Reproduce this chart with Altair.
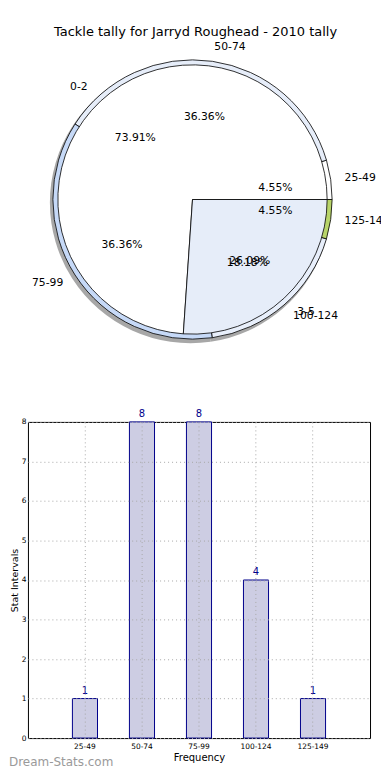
import math
import altair as alt
import pandas as pd

# ---- data ----
intervals = ["25-49", "50-74", "75-99", "100-124", "125-149"]
interval_counts = [1, 8, 8, 4, 1]
interval_colors = ["#ffffff", "#e6edf9", "#c6d9f7", "#e8effb", "#b8d46a"]
tally_cats = ["0-2", "3-5"]
tally_counts = [17, 6]
tally_colors = ["#ffffff", "#ebf1fc"]
chart_title = "Tackle tally for Jarryd Roughead - 2010 tally"
y_ticks = [0, 1, 2, 3, 4, 5, 6, 7, 8]
watermark = "Dream-Stats.com"

FONT = "DejaVu Sans"
DX = 19                      # left extent of bar chart axes
W = 370 - 8 - DX             # bar plot width
WP = 381 - 8 - DX            # pie panel width (labels clipped at its edge)
CX = 192 - 8 - DX            # pie centre in panel coords
CY = 190
R1, R2 = 140, 135
BAR_H = 317
TS = alt.Scale(domain=[0, 1], range=[2.5 * math.pi, 0.5 * math.pi])


def pie_base(cats, counts):
    df = pd.DataFrame({"cat": cats, "n": counts, "idx": list(range(len(cats)))})
    return (
        alt.Chart(df)
        .transform_joinaggregate(total="sum(n)")
        .transform_window(cum="sum(n)", sort=[alt.SortField("idx", order="ascending")], frame=[None, 0])
        .transform_calculate(
            t0="(datum.cum - datum.n) / datum.total",
            t1="datum.cum / datum.total",
            tm="(datum.cum - datum.n / 2) / datum.total",
            pct="format(100 * datum.n / datum.total, '.2f') + '%'",
            side="cos(2 * PI * (datum.cum - datum.n / 2) / datum.total) >= 0 ? 'R' : 'L'",
        )
    )


def arcs(base, cats, colors, r, dx=0, dy=0, shadow=False):
    enc = dict(
        theta=alt.Theta("t0:Q", scale=TS),
        theta2="t1:Q",
        x=alt.value(CX + dx),
        y=alt.value(CY + dy),
    )
    if shadow:
        return base.mark_arc(radius=r, color="#8a8a8a", opacity=0.75).encode(**enc)
    return base.mark_arc(radius=r, stroke="#000000", strokeWidth=0.8).encode(
        color=alt.Color("cat:N", scale=alt.Scale(domain=cats, range=colors), legend=None), **enc
    )


def pct_text(base, r):
    return base.mark_text(radius=r, fontSize=10.8, font=FONT, color="black").encode(
        theta=alt.Theta("tm:Q", scale=TS), text="pct:N", x=alt.value(CX), y=alt.value(CY)
    )


def cat_text(base, r):
    out = []
    for side, align in (("R", "left"), ("L", "right")):
        out.append(
            base.transform_filter(f"datum.side == '{side}'")
            .mark_text(radius=r, align=align, fontSize=10.8, font=FONT, color="black", clip=True)
            .encode(theta=alt.Theta("tm:Q", scale=TS), text="cat:N", x=alt.value(CX), y=alt.value(CY))
        )
    return out


b1 = pie_base(intervals, interval_counts)
b2 = pie_base(tally_cats, tally_counts)

title_layer = alt.Chart(pd.DataFrame({"t": [chart_title]})).mark_text(
    fontSize=13, font=FONT, color="black"
).encode(text="t:N", x=alt.value(195 - 8 - DX), y=alt.value(22))

pie = alt.layer(
    arcs(b1, intervals, interval_colors, R1 + 1, dx=-2, dy=3, shadow=True),
    arcs(b1, intervals, interval_colors, R1),
    arcs(b2, tally_cats, tally_colors, R2),
    pct_text(b1, 0.6 * R1),
    pct_text(b2, 0.6 * R1),
    *cat_text(b1, 1.1 * R1),
    *cat_text(b2, 1.1 * R1),
    title_layer,
).properties(width=WP, height=413, view=alt.ViewBackground(stroke="transparent"))

# ---- bar chart ----
dfb = pd.DataFrame({"cat": intervals, "n": interval_counts})
xenc = alt.X(
    "cat:N",
    sort=intervals,
    scale=alt.Scale(paddingInner=0.56, paddingOuter=0.78),
    axis=alt.Axis(
        title="Frequency", labelAngle=0, labelFontSize=7.5, titleFontSize=10,
        grid=True, gridDash=[1, 3], gridColor="#a8a8a8", ticks=False, domain=False,
        labelPadding=4, titlePadding=3, labelColor="black", titleColor="black",
        titleFontWeight="normal", labelFont=FONT, titleFont=FONT, zindex=1,
    ),
)
yenc = alt.Y(
    "n:Q",
    scale=alt.Scale(domain=[0, 8], nice=False),
    axis=alt.Axis(
        values=y_ticks, title="Stat Intervals", labelFontSize=7.5, titleFontSize=9.5,
        grid=True, gridDash=[1, 3], gridColor="#a8a8a8", ticks=False, domain=False,
        labelPadding=2, titlePadding=2, labelColor="black", titleColor="black",
        titleFontWeight="normal", labelFont=FONT, titleFont=FONT, labelOverlap=False, zindex=1,
    ),
)
bbase = alt.Chart(dfb).encode(x=xenc, y=yenc)
bars = bbase.mark_bar(fill="#cdcde3", stroke="#00008b", strokeWidth=1)
vals = bbase.mark_text(dy=-8, color="#00008b", fontSize=10, font=FONT).encode(text="n:Q")
wm = alt.Chart(pd.DataFrame({"t": [watermark]})).mark_text(
    align="left", fontSize=12, color="#9a9a9a", font=FONT
).encode(text="t:N", x=alt.value(-DX), y=alt.value(BAR_H + 24))

barchart = alt.layer(bars, vals, wm).properties(width=W, height=BAR_H)

chart = (
    alt.vconcat(pie, barchart, spacing=0, bounds="flush")
    .properties(padding={"left": 0, "top": 0, "right": 0, "bottom": 0})
    .configure(font=FONT)
    .configure_view(stroke="black", strokeWidth=1)
)

chart.save("out.html", embed_options={"renderer": "svg", "actions": False})
